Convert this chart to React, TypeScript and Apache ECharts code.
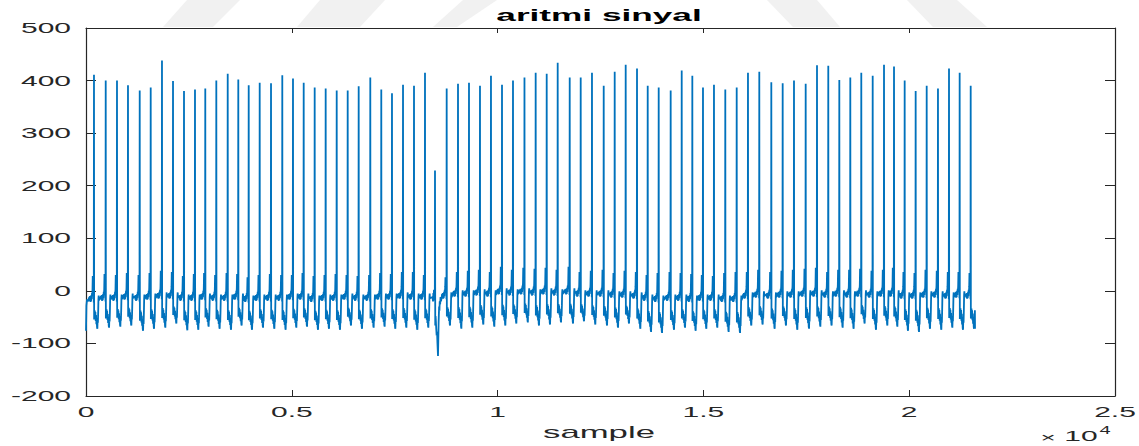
import React, { useEffect, useRef } from "react";
import * as echarts from "echarts";

// R-peak sample positions of the recorded beats
const PEAK_SAMPLES = [
  194, 479, 753, 1020, 1305, 1572, 1846, 2114, 2381, 2648, 2898, 3166, 3443, 3700, 3953, 4220,
  4495, 4769, 5029, 5289, 5556, 5823, 6091, 6358, 6625, 6907, 7174, 7434, 7702, 7969, 8236,
  8763, 9038, 9305, 9572, 9839, 10107, 10374, 10653, 10925, 11193, 11460, 11752, 12019, 12293,
  12578, 12845, 13112, 13387, 13647, 13914, 14205, 14473, 14731, 14990, 15257, 15532, 15809,
  16083, 16358, 16650, 16926, 17201, 17485, 17760, 18034, 18302, 18569, 18836, 19113, 19388,
  19631, 19890, 20157, 20425, 20699, 20967, 21226, 21494,
];

// R-peak amplitudes
const PEAK_VALUES = [
  411, 400, 400, 391, 381, 387, 438, 399, 380, 383, 385, 400, 413, 402, 391, 396, 395, 410, 404,
  396, 387, 385, 381, 381, 389, 406, 383, 376, 392, 390, 415,
  385, 394, 396, 390, 409, 392, 400, 406, 415, 413, 434, 406, 406, 415, 390, 417, 430, 423, 390,
  387, 381, 419, 409, 387, 392, 383, 387,
  415, 417, 397, 395, 400, 394, 429, 428, 401, 406, 415, 409, 430, 427, 400, 380, 390, 385, 423,
  415, 390,
];

// Deepest point after each beat
const TROUGH_VALUES = [
  -72, -70, -68, -66, -76, -72, -70, -62, -75, -74, -68, -72, -74, -66, -74, -70, -72, -74, -70,
  -68, -74, -72, -74, -66, -72, -70, -68, -72, -70, -74, -70,
  -66, -72, -70, -64, -68, -66, -62, -60, -66, -64, -60, -62, -58, -64, -66, -70, -62, -72, -78,
  -80, -74, -70, -76, -72, -70, -78, -80,
  -66, -64, -72, -66, -74, -72, -68, -66, -70, -72, -62, -74, -66, -68, -76, -78, -72, -74, -70,
  -74, -72,
];

// Small wave just before each R peak
const BUMP_VALUES = [
  28, 32, 30, 34, 30, 34, 38, 36, 28, 32, 34, 30, 34, 32, 26, 30, 32, 30, 30, 34, 28, 30, 32, 30,
  28, 30, 34, 32, 36, 36, 30,
  26, 36, 38, 40, 36, 46, 40, 44, 42, 44, 40, 46, 36, 38, 40, 34, 38, 36, 30, 34, 36, 34, 32, 30,
  28, 34, 36,
  36, 40, 36, 38, 40, 42, 44, 36, 40, 40, 42, 38, 40, 44, 36, 34, 40, 38, 36, 36, 34,
];

// Baseline level around each beat
const BASE_VALUES = [
  -14, -12, -12, -10, -12, -10, -8, -8, -12, -12, -10, -12, -12, -10, -14, -12, -12, -12, -10, -10,
  -14, -12, -12, -10, -12, -12, -10, -10, -8, -10, -10,
  -8, -4, -4, -2, -4, 0, -2, 0, -2, 0, -2, 0, -4, -4, -4, -6, -6, -8, -12, -14, -12, -12, -14, -12,
  -12, -14, -14,
  -8, -6, -8, -6, -6, -4, -4, -6, -4, -6, -4, -6, -4, -4, -8, -8, -6, -6, -8, -6, -8,
];

// The single premature beat with its deep negative swing
const ECTOPIC_SAMPLE = 8479;
const ECTOPIC_OFFSETS = [-60, -48, -40, -32, -25, -18, -12, -4, 0, 6, 14, 20, 30, 40, 50, 60, 73, 80, 88, 100, 108, 115, 125, 135, 145, 155];
const ECTOPIC_VALUES = [-12, -20, -4, -14, 2, -8, -18, -8, 229, -66, -48, -55, -72, -85, -78, -100, -124, -95, -60, -30, -38, -20, -26, -12, -20, -16];

// Start and end of the record
const START_SAMPLES = [0, 10, 25, 45];
const START_VALUES = [-76, -28, -16, -20];
const LAST_SAMPLE = 21599;
const LAST_VALUE = -72;

// Axis ticks
const X_TICKS = [0, 0.5, 1, 1.5, 2, 2.5];
const X_TICK_LABELS = ["0", "0.5", "1", "1.5", "2", "2.5"];
const Y_TICKS = [500, 400, 300, 200, 100, 0, -100, -200];
const Y_TICK_LABELS = ["500", "400", "300", "200", "100", "0", "-100", "-200"];

// Beat waveform outline: sample offset from the R peak, the level it follows
// (b = baseline, p = pre-peak wave, r = R peak, t = trough) and how strongly
const SHAPE_OFFSETS = [
  -112, -104, -96, -88, -80, -72, -64, -56, -48, -42, -36,
  -30, -25, -20, -15, -10, -5, 0,
  4, 9, 14, 20, 27, 34, 42, 50, 58, 66, 74, 82, 88, 95, 102,
  108, 114, 120,
];
const SHAPE_ROLE = [
  "b", "b", "b", "b", "b", "b", "b", "b", "b", "b", "b",
  "p", "p", "p", "p", "p", "b", "r",
  "t", "t", "t", "t", "t", "t", "t", "t", "t", "t", "t", "t", "t", "t", "t",
  "b", "b", "b",
];
const SHAPE_GAIN = [
  2, -5, 4, -7, 3, -6, 6, -2, 10, 4, 16,
  1, 0.6, 0.85, 0.4, 0.7, -8, 1,
  0.7, 0.5, 0.65, 0.4, 0.7, 0.45, 0.75, 0.55, 0.85, 0.65, 0.95, 1, 0.7, 0.8, 0.45,
  -2, 5, -4,
];

function buildSignal(): [number, number][] {
  const pts: [number, number][] = [];
  START_SAMPLES.forEach((s, i) => pts.push([s, START_VALUES[i]]));
  PEAK_SAMPLES.forEach((r, i) => {
    const base = BASE_VALUES[i];
    SHAPE_OFFSETS.forEach((off, j) => {
      const role = SHAPE_ROLE[j];
      const g = SHAPE_GAIN[j];
      let v = base;
      if (role === "b") v = base + g;
      else if (role === "p") v = base + (BUMP_VALUES[i] - base) * g;
      else if (role === "r") v = PEAK_VALUES[i];
      else v = base + (TROUGH_VALUES[i] - base) * g;
      pts.push([r + off, v]);
    });
  });
  ECTOPIC_OFFSETS.forEach((off, j) => pts.push([ECTOPIC_SAMPLE + off, ECTOPIC_VALUES[j]]));
  const kept = pts.filter((p) => p[0] < LAST_SAMPLE).sort((a, b) => a[0] - b[0]);
  kept.push([LAST_SAMPLE, LAST_VALUE]);
  return kept;
}

const AXIS_COLOR = "#262626";
const LINE_COLOR = "#0072BD";
const FONT = "'Liberation Sans', Arial, Helvetica, sans-serif";

export default function App() {
  const ref = useRef<HTMLDivElement>(null);

  useEffect(() => {
    if (!ref.current) return;
    const chart = echarts.init(ref.current, null, { renderer: "svg" });

    const axisCommon = {
      type: "value" as const,
      axisLine: { show: true, onZero: false, lineStyle: { color: AXIS_COLOR, width: 1.2 } },
      axisLabel: { show: false },
      splitLine: { show: false },
    };

    chart.setOption({
      animation: false,
      backgroundColor: "#ffffff",
      grid: { left: 86, top: 28, width: 1029, height: 368, containLabel: false },
      xAxis: [
        {
          ...axisCommon,
          position: "bottom",
          min: 0,
          max: 25000,
          interval: 5000,
          axisTick: { show: true, inside: true, length: 6, lineStyle: { color: AXIS_COLOR } },
        },
        {
          ...axisCommon,
          position: "top",
          min: 0,
          max: 25000,
          interval: 5000,
          axisTick: { show: true, inside: true, length: 5, lineStyle: { color: AXIS_COLOR } },
        },
      ],
      yAxis: [
        {
          ...axisCommon,
          position: "left",
          min: -200,
          max: 500,
          interval: 100,
          axisTick: { show: true, inside: true, length: 10, lineStyle: { color: AXIS_COLOR } },
        },
        {
          ...axisCommon,
          position: "right",
          min: -200,
          max: 500,
          interval: 100,
          axisTick: { show: true, inside: true, length: 10, lineStyle: { color: AXIS_COLOR } },
        },
      ],
      series: [
        {
          type: "line",
          xAxisIndex: 0,
          yAxisIndex: 0,
          data: buildSignal(),
          showSymbol: false,
          symbol: "none",
          lineStyle: { color: LINE_COLOR, width: 1.8 },
          z: 2,
        },
      ],
    });

    const items: any[] = [];
    X_TICKS.forEach((t, i) => {
      const px = chart.convertToPixel({ xAxisIndex: 0 }, t * 10000) as number;
      items.push({
        type: "text",
        x: px,
        y: 412,
        scaleX: 2,
        style: {
          text: X_TICK_LABELS[i],
          fill: AXIS_COLOR,
          font: `15px ${FONT}`,
          align: "center",
          verticalAlign: "middle",
        },
      });
    });
    Y_TICKS.forEach((t, i) => {
      const py = chart.convertToPixel({ yAxisIndex: 0 }, t) as number;
      items.push({
        type: "text",
        x: 71,
        y: py,
        scaleX: 2,
        style: {
          text: Y_TICK_LABELS[i],
          fill: AXIS_COLOR,
          font: `15px ${FONT}`,
          align: "right",
          verticalAlign: "middle",
        },
      });
    });

    // title, axis name and exponent
    items.push({
      type: "text",
      x: 599,
      y: 15,
      scaleX: 2.2,
      style: { text: "aritmi sinyal", fill: "#000000", font: `bold 16px ${FONT}`, align: "center", verticalAlign: "middle" },
    });
    items.push({
      type: "text",
      x: 599,
      y: 433,
      scaleX: 2.17,
      style: { text: "sample", fill: AXIS_COLOR, font: `16px ${FONT}`, align: "center", verticalAlign: "middle" },
    });
    items.push({
      type: "text",
      x: 1048,
      y: 437,
      scaleX: 2,
      style: { text: "×", fill: AXIS_COLOR, font: `13px ${FONT}`, align: "center", verticalAlign: "middle" },
    });
    items.push({
      type: "text",
      x: 1081,
      y: 436,
      scaleX: 2,
      style: { text: "10", fill: AXIS_COLOR, font: `15px ${FONT}`, align: "center", verticalAlign: "middle" },
    });
    items.push({
      type: "text",
      x: 1105,
      y: 431,
      scaleX: 2,
      style: { text: "4", fill: AXIS_COLOR, font: `10px ${FONT}`, align: "center", verticalAlign: "middle" },
    });

    // faint diagonal bands above the frame
    const bands = [
      [[187, 0], [240, 0], [213, 27], [163, 27]],
      [[320, 0], [385, 0], [360, 27], [297, 27]],
      [[463, 0], [497, 0], [457, 27], [433, 27]],
      [[767, 0], [817, 0], [840, 27], [793, 27]],
      [[907, 0], [957, 0], [987, 27], [933, 27]],
    ];
    bands.forEach((b) =>
      items.push({ type: "polygon", z: -1, shape: { points: b }, style: { fill: "#f1f1f1" }, silent: true })
    );

    chart.setOption({ graphic: items });

    return () => chart.dispose();
  }, []);

  return (
    <div
      ref={ref}
      style={{ position: "fixed", left: 0, top: 0, width: 1139, height: 446, background: "#fff" }}
    />
  );
}
